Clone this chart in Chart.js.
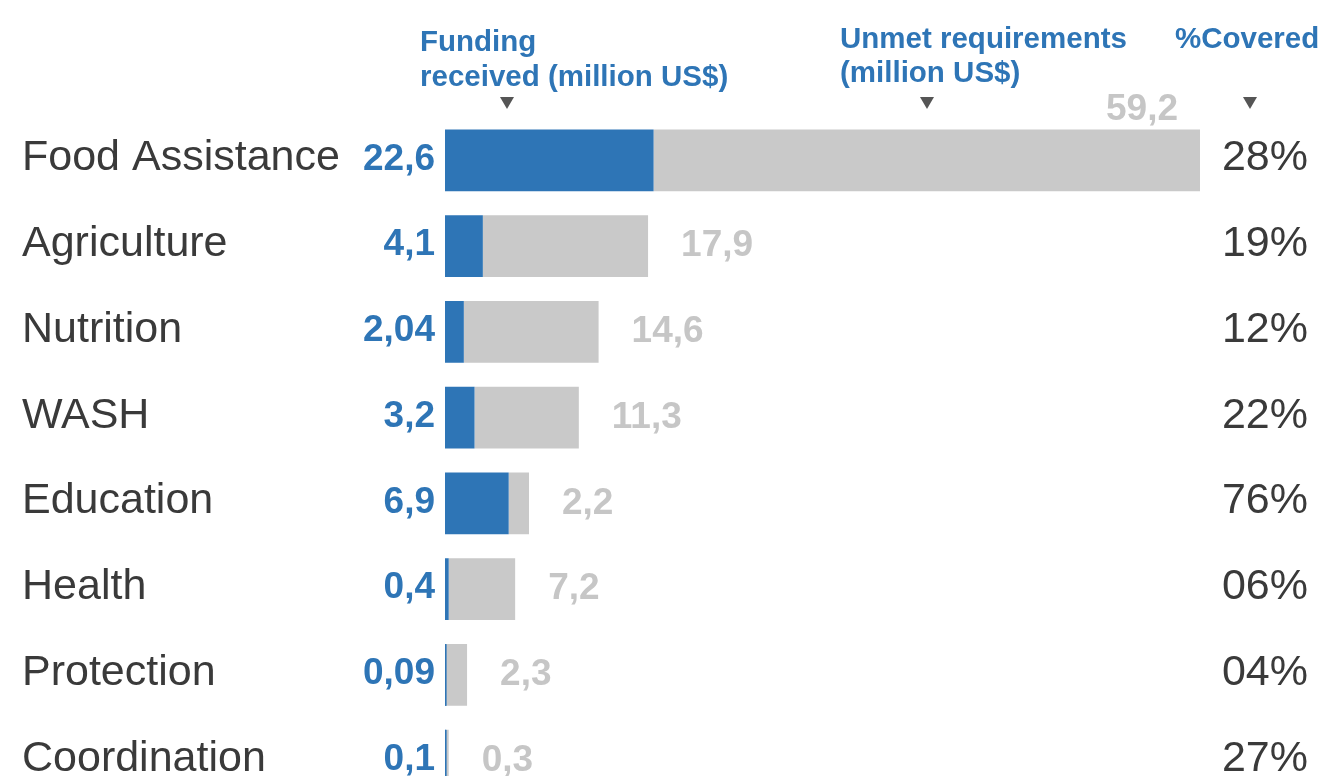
<!DOCTYPE html>
<html>
<head>
<meta charset="utf-8">
<script src="https://cdn.jsdelivr.net/npm/chart.js@4.4.0/dist/chart.umd.min.js"></script>
<style>
    html, body { margin: 0; padding: 0; background: #ffffff; overflow: hidden; }
    #wrap { position: relative; width: 1328px; height: 820px; }
</style>
</head>
<body>
<div id="wrap"><canvas id="fundingChart"></canvas></div>
<script>
// Sector funding data (million US$)
const sectors = ['Food Assistance', 'Agriculture', 'Nutrition', 'WASH', 'Education', 'Health', 'Protection', 'Coordination'];
const fundingReceived = [22.6, 4.1, 2.04, 3.2, 6.9, 0.4, 0.09, 0.1];
const unmetRequirements = [59.2, 17.9, 14.6, 11.3, 2.2, 7.2, 2.3, 0.3];
const percentCovered = ['28%', '19%', '12%', '22%', '76%', '06%', '04%', '27%'];

const BLUE = '#2e75b6';
const GREY = '#c9c9c9';
const GREY_TEXT = '#c6c6c6';
const DARK = '#3a3a3a';
const FONT = '"Liberation Sans", Arial, sans-serif';

function fmt(v) {
    return String(v).replace('.', ',');
}

// Draws the labels, column headers and the little markers
const labelPlugin = {
    id: 'labelPlugin',
    afterDatasetsDraw(chart) {
        const ctx = chart.ctx;
        const x = chart.scales.x;
        const y = chart.scales.y;
        const barMeta = chart.getDatasetMeta(1);

        ctx.save();
        ctx.textBaseline = 'middle';

        sectors.forEach((name, i) => {
            const cy = y.getPixelForValue(i);

            // category name
            ctx.fillStyle = DARK;
            ctx.font = '43px ' + FONT;
            ctx.textAlign = 'left';
            ctx.fillText(name, 22, cy - 2);

            // funding received
            ctx.fillStyle = BLUE;
            ctx.font = 'bold 37px ' + FONT;
            ctx.textAlign = 'right';
            ctx.fillText(fmt(fundingReceived[i]), x.left - 10, cy - 1);

            // thin funding sliver stays visible next to the grey bar
            const fx = x.getPixelForValue(fundingReceived[i]);
            if (fx - x.left < 2) {
                const bar = barMeta.data[i];
                ctx.fillStyle = BLUE;
                ctx.fillRect(x.left, bar.y - bar.height / 2, 1.6, bar.height);
            }

            // unmet requirements
            const end = x.getPixelForValue(fundingReceived[i] + unmetRequirements[i]);
            ctx.fillStyle = GREY_TEXT;
            ctx.font = 'bold 37px ' + FONT;
            if (end > x.right - 5) {
                const bar = barMeta.data[i];
                ctx.textAlign = 'right';
                ctx.fillText(fmt(unmetRequirements[i]), end - 22, bar.y - bar.height / 2 - 20);
            } else {
                ctx.textAlign = 'left';
                ctx.fillText(fmt(unmetRequirements[i]), end + 33, cy);
            }

            // % covered
            ctx.fillStyle = DARK;
            ctx.font = '43px ' + FONT;
            ctx.textAlign = 'right';
            ctx.fillText(percentCovered[i], 1308, cy - 2);
        });

        // column headers
        ctx.fillStyle = BLUE;
        ctx.font = 'bold 29.5px ' + FONT;
        ctx.textAlign = 'left';
        ctx.fillText('Funding', 420, 43);
        ctx.fillText('received (million US$)', 420, 78);
        ctx.fillText('Unmet requirements', 840, 40);
        ctx.fillText('(million US$)', 840, 74);
        ctx.fillText('%Covered', 1175, 40);

        // arrows
        ctx.fillStyle = '#555555';
        [507, 927, 1250].forEach(ax => {
            ctx.beginPath();
            ctx.moveTo(ax - 7, 97);
            ctx.lineTo(ax + 7, 97);
            ctx.lineTo(ax, 109);
            ctx.closePath();
            ctx.fill();
        });

        ctx.restore();
    }
};

const chart = new Chart(document.getElementById('fundingChart'), {
    type: 'bar',
    data: {
        labels: sectors,
        datasets: [{
            label: 'Funding received (million US$)',
            data: fundingReceived,
            backgroundColor: BLUE,
            borderWidth: 0
        }, {
            label: 'Unmet requirements (million US$)',
            data: unmetRequirements,
            backgroundColor: GREY,
            borderWidth: 0
        }]
    },
    options: {
        indexAxis: 'y',
        responsive: true,
        maintainAspectRatio: false,
        animation: false,
        layout: {
            padding: { left: 445, right: 128, top: 117.6, bottom: 16.4 }
        },
        datasets: {
            bar: { categoryPercentage: 1, barPercentage: 0.72 }
        },
        plugins: {
            legend: { display: false },
            tooltip: { enabled: false }
        },
        scales: {
            x: {
                stacked: true,
                min: 0,
                max: 81.8,
                display: false
            },
            y: {
                stacked: true,
                display: false
            }
        }
    },
    plugins: [labelPlugin]
});
</script>
</body>
</html>
